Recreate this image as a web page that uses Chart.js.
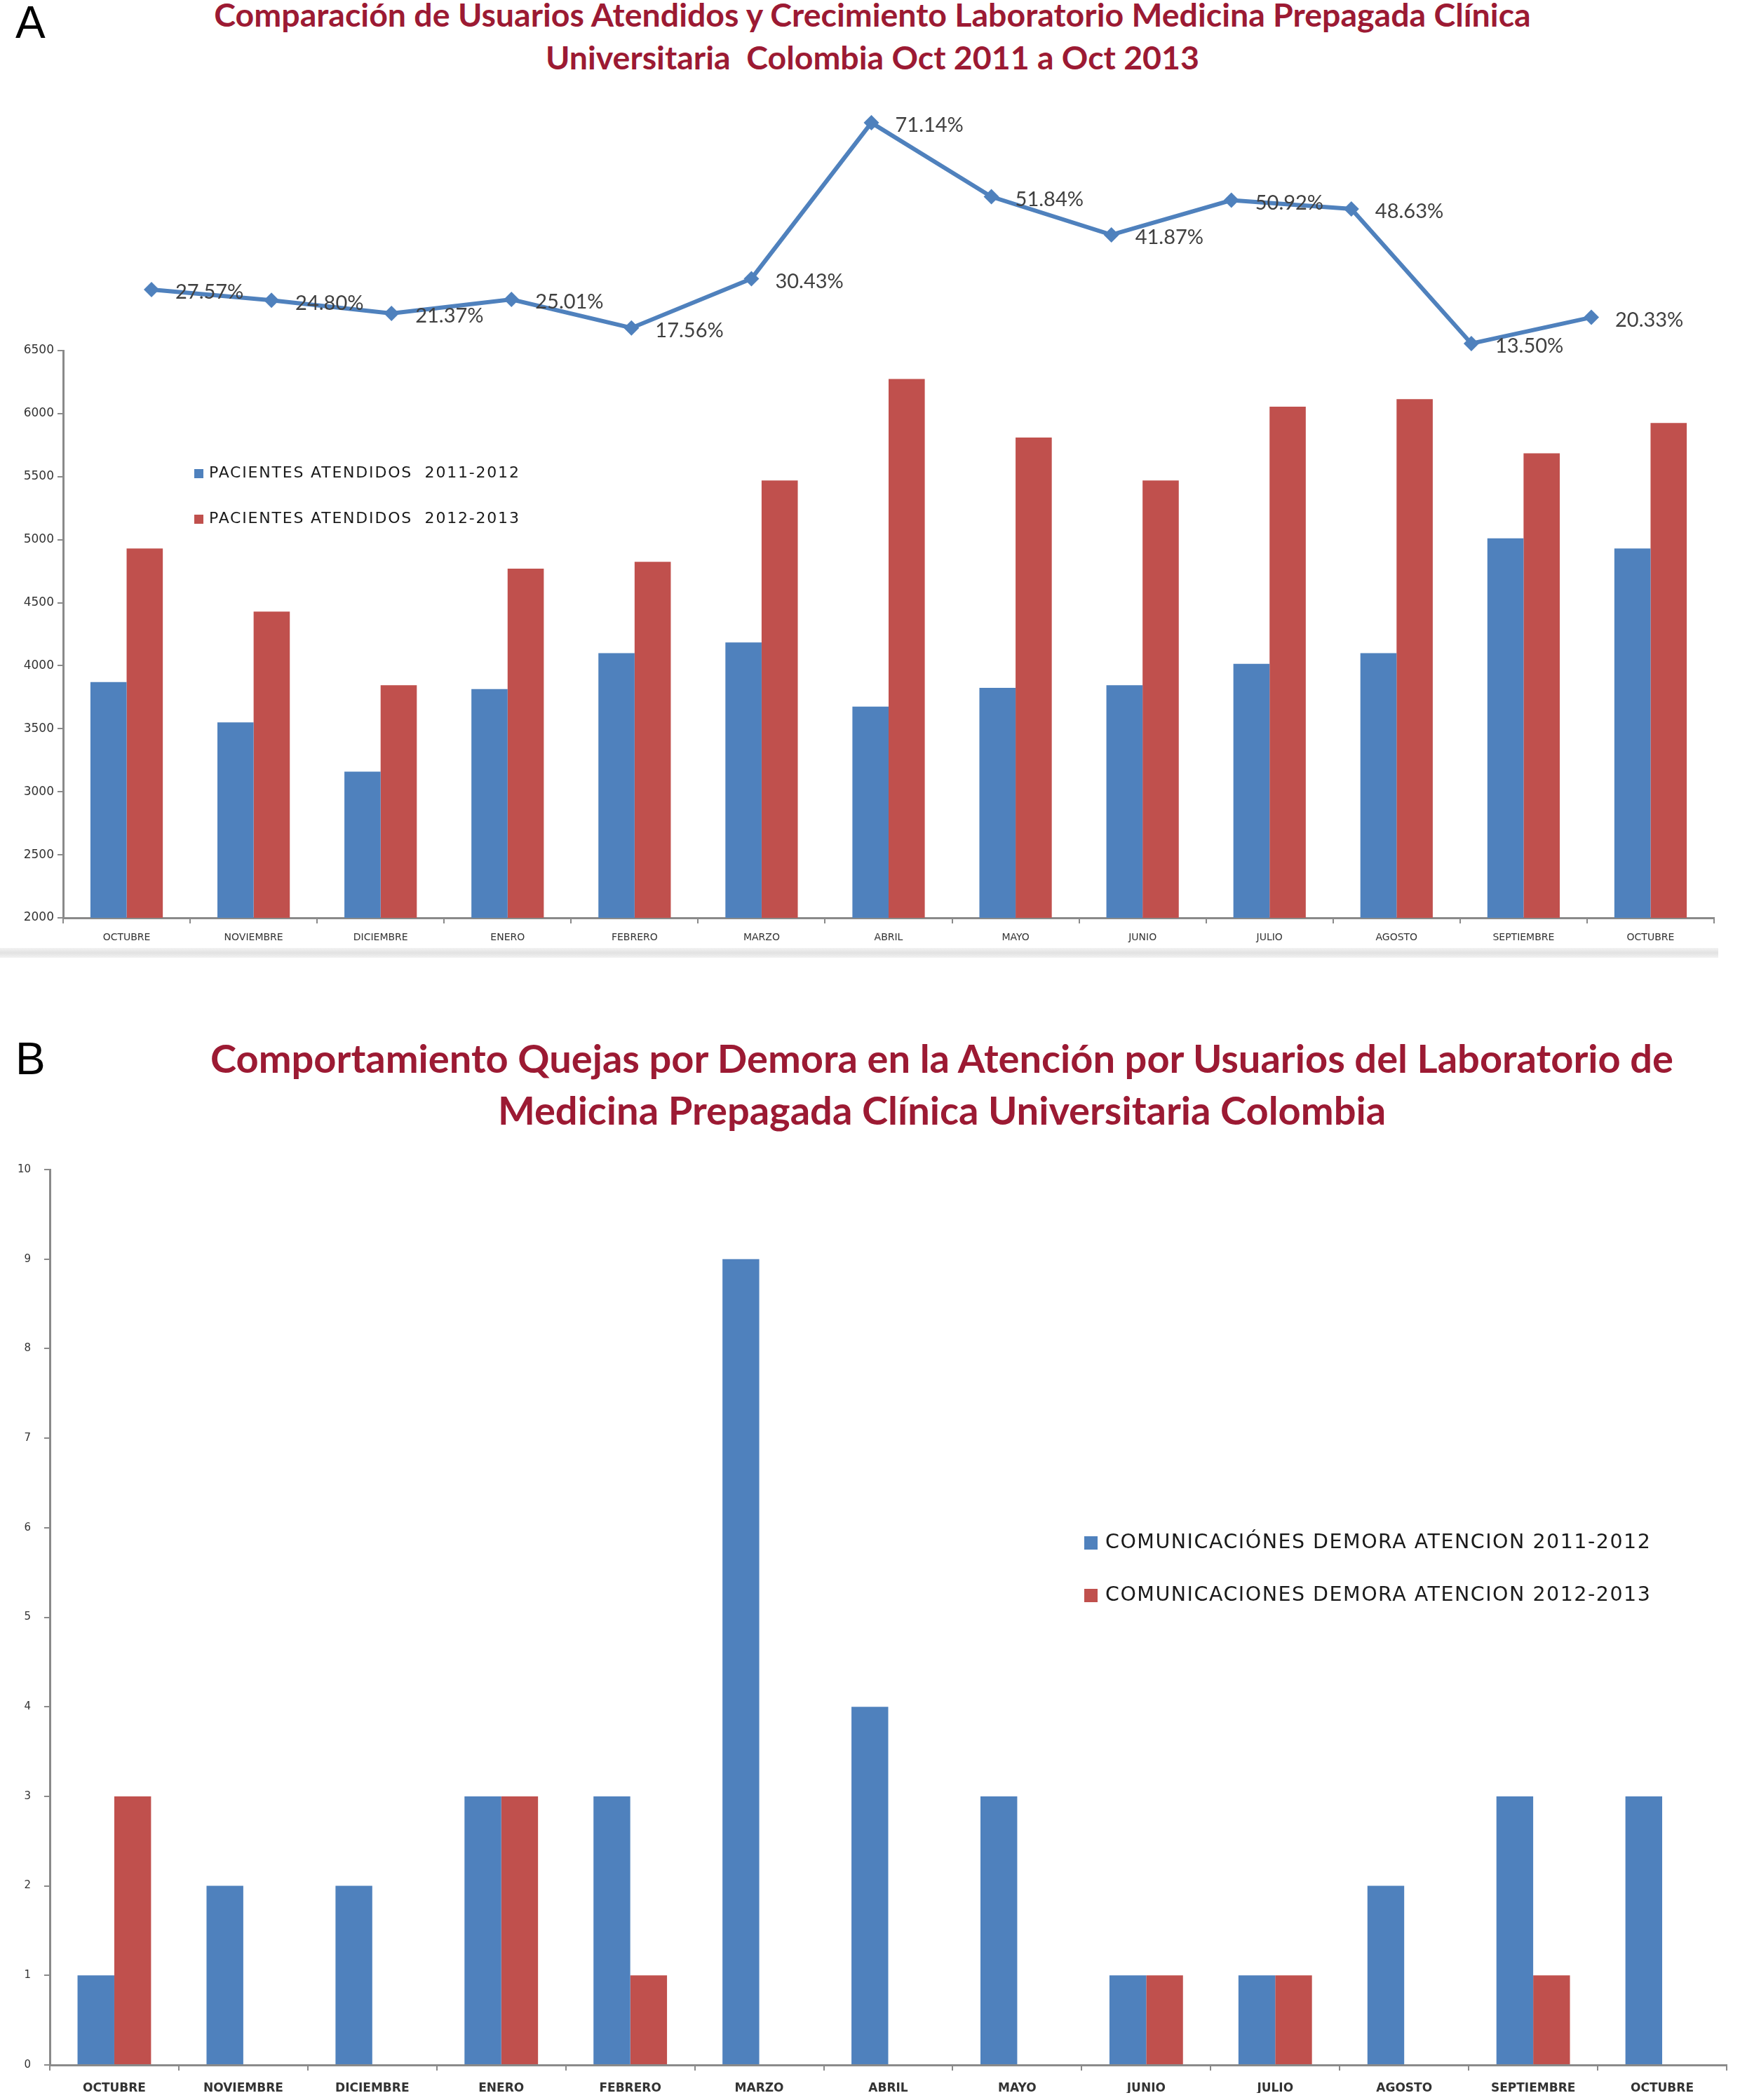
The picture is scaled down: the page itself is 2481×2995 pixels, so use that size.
<!DOCTYPE html>
<html>
<head>
<meta charset="utf-8">
<script src="https://cdn.jsdelivr.net/npm/chart.js@4.4.1/dist/chart.umd.min.js"></script>
<style>
  body { margin: 0; background: #fff; }
  #page { position: relative; width: 2481px; height: 2995px; overflow: hidden; background: #fff; }
  canvas { position: absolute; }
  .panel { position: absolute; font-family: "Liberation Sans", Arial, sans-serif; font-size: 64px; color: #000; line-height: 1; }
  .title { position: absolute; font-family: Lato, "Open Sans", sans-serif; font-weight: bold; color: #9c1a33; text-align: center; white-space: nowrap; }
  .legend { position: absolute; font-family: "DejaVu Sans", sans-serif; color: #1a1a1a; white-space: nowrap; }
  .legend span.box { display: inline-block; vertical-align: middle; }
  .band { position: absolute; left: 0; top: 1352px; width: 2450px; height: 14px; background: linear-gradient(#f2f2f2, #e2e2e2, #f2f2f2); }
</style>
</head>
<body>
<div id="page">
  <div class="panel" style="left:22px; top:0px;">A</div>
  <div class="title" id="titleA" style="left:0; width:2488px; top:-10px; font-size:46.5px; line-height:61px;"></div>

  <canvas id="growthChart" width="2481" height="460" style="left:0; top:100px;"></canvas>
  <canvas id="patientsChart" width="2481" height="930" style="left:0; top:470px;"></canvas>
  <div class="legend" id="legendA" style="left:277px; top:641px; font-size:22px; letter-spacing:1.8px;"></div>
  <div class="band"></div>

  <div class="panel" style="left:22px; top:1478px;">B</div>
  <div class="title" id="titleB" style="left:0; width:2686px; top:1472px; font-size:56px; line-height:74px;"></div>

  <canvas id="complaintsChart" width="2481" height="1365" style="left:0; top:1630px;"></canvas>
  <div class="legend" id="legendB" style="left:1546px; top:2161px; font-size:28.5px; letter-spacing:1.5px;"></div>
</div>

<script>
const months = ['OCTUBRE', 'NOVIEMBRE', 'DICIEMBRE', 'ENERO', 'FEBRERO', 'MARZO', 'ABRIL', 'MAYO', 'JUNIO', 'JULIO', 'AGOSTO', 'SEPTIEMBRE', 'OCTUBRE'];

const titleA = ['Comparación de Usuarios Atendidos y Crecimiento Laboratorio Medicina Prepagada Clínica', 'Universitaria\u00a0 Colombia Oct 2011 a Oct 2013'];
const titleB = ['Comportamiento Quejas por Demora en la Atención por Usuarios del Laboratorio de', 'Medicina Prepagada Clínica Universitaria Colombia'];

// Grafico A
const growthPct = [27.57, 24.80, 21.37, 25.01, 17.56, 30.43, 71.14, 51.84, 41.87, 50.92, 48.63, 13.50, 20.33];
const patientsLabels = ['PACIENTES ATENDIDOS\u00a0 2011-2012', 'PACIENTES ATENDIDOS\u00a0 2012-2013'];
const patients2011 = [3870, 3550, 3160, 3815, 4100, 4185, 3675, 3825, 3845, 4015, 4100, 5010, 4930];
const patients2012 = [4930, 4430, 3845, 4770, 4825, 5470, 6275, 5810, 5470, 6055, 6115, 5685, 5925];
const patientsTicks = [2000, 6500, 500];

// Grafico B
const complaintsLabels = ['COMUNICACIÓNES DEMORA ATENCION 2011-2012', 'COMUNICACIONES DEMORA ATENCION 2012-2013'];
const complaints2011 = [1, 2, 2, 3, 3, 9, 4, 3, 1, 1, 2, 3, 3];
const complaints2012 = [3, 0, 0, 3, 1, 0, 0, 0, 1, 1, 0, 1, 0];
const complaintsTicks = [0, 10, 1];

const BLUE = '#4f81bd';
const RED = '#c0504d';
const AXIS = '#8a8a8a';

document.getElementById('titleA').innerHTML = titleA.join('<br>');
document.getElementById('titleB').innerHTML = titleB.join('<br>');

function buildLegend(el, labels, box, gap) {
  const colors = [BLUE, RED];
  el.innerHTML = labels.map((l, i) =>
    `<div style="height:${gap}px; line-height:${gap}px;"><span class="box" style="width:${box}px;height:${box}px;background:${colors[i]};margin-right:${Math.round(box * 0.6)}px;"></span>${l}</div>`
  ).join('');
}
buildLegend(document.getElementById('legendA'), patientsLabels, 13, 65);
buildLegend(document.getElementById('legendB'), complaintsLabels, 19, 75);

const pctLabels = {
  id: 'pctLabels',
  afterDatasetsDraw(chart) {
    const ctx = chart.ctx;
    const meta = chart.getDatasetMeta(0);
    ctx.save();
    ctx.font = '29px Lato, "Open Sans", sans-serif';
    ctx.fillStyle = '#404040';
    ctx.textBaseline = 'middle';
    ctx.textAlign = 'left';
    meta.data.forEach((pt, i) => {
      ctx.fillText(growthPct[i].toFixed(2) + '%', pt.x + 34, pt.y + 4);
    });
    ctx.restore();
  }
};

new Chart(document.getElementById('growthChart').getContext('2d'), {
  type: 'line',
  data: {
    labels: months,
    datasets: [{
      data: growthPct,
      borderColor: BLUE,
      backgroundColor: BLUE,
      borderWidth: 6,
      pointStyle: 'rectRot',
      pointRadius: 11,
      pointBorderWidth: 0,
      tension: 0,
      clip: false
    }]
  },
  options: {
    responsive: false,
    devicePixelRatio: 1,
    animation: false,
    layout: { padding: { left: 216, right: 212, top: 54, bottom: 51 } },
    plugins: { legend: { display: false }, tooltip: { enabled: false } },
    scales: {
      x: { display: false, offset: false },
      y: { display: false, min: 10, max: 75 }
    }
  },
  plugins: [pctLabels]
});

function barOptions(ticks, cfg) {
  return {
    responsive: false,
    devicePixelRatio: 1,
    animation: false,
    layout: { padding: cfg.padding },
    plugins: { legend: { display: false }, tooltip: { enabled: false } },
    scales: {
      x: {
        afterFit(scale) { scale.height = cfg.xHeight; },
        grid: { drawOnChartArea: false, drawTicks: true, tickLength: 8, color: AXIS, lineWidth: 2 },
        border: { color: AXIS, width: 3 },
        ticks: {
          autoSkip: false, maxRotation: 0, padding: cfg.xPad,
          color: '#333', font: { family: 'DejaVu Sans', size: cfg.xFont, weight: cfg.xWeight }
        }
      },
      y: {
        min: ticks[0], max: ticks[1],
        afterFit(scale) { scale.width = cfg.yWidth; },
        grid: { drawOnChartArea: false, drawTicks: true, tickLength: 8, color: AXIS, lineWidth: 2 },
        border: { color: AXIS, width: 3 },
        ticks: {
          stepSize: ticks[2], padding: cfg.yPad,
          callback: (v) => String(v),
          color: '#333', font: { family: 'DejaVu Sans', size: cfg.yFont }
        }
      }
    }
  };
}

new Chart(document.getElementById('patientsChart').getContext('2d'), {
  type: 'bar',
  data: {
    labels: months,
    datasets: [
      { label: patientsLabels[0], data: patients2011, backgroundColor: BLUE, categoryPercentage: 0.57, barPercentage: 1.0 },
      { label: patientsLabels[1], data: patients2012, backgroundColor: RED, categoryPercentage: 0.57, barPercentage: 1.0 }
    ]
  },
  options: barOptions(patientsTicks, {
    padding: { left: 20, right: 37, top: 30, bottom: 31 },
    xHeight: 60, yWidth: 70, xPad: 12, yPad: 5, xFont: 14, xWeight: 'normal', yFont: 17
  })
});

new Chart(document.getElementById('complaintsChart').getContext('2d'), {
  type: 'bar',
  data: {
    labels: months,
    datasets: [
      { label: complaintsLabels[0], data: complaints2011, backgroundColor: BLUE, categoryPercentage: 0.57, barPercentage: 1.0 },
      { label: complaintsLabels[1], data: complaints2012, backgroundColor: RED, categoryPercentage: 0.57, barPercentage: 1.0 }
    ]
  },
  options: barOptions(complaintsTicks, {
    padding: { left: 11, right: 19, top: 38, bottom: 10 },
    xHeight: 40, yWidth: 60, xPad: 15, yPad: 19, xFont: 17, xWeight: 'bold', yFont: 15
  })
});
</script>
</body>
</html>
